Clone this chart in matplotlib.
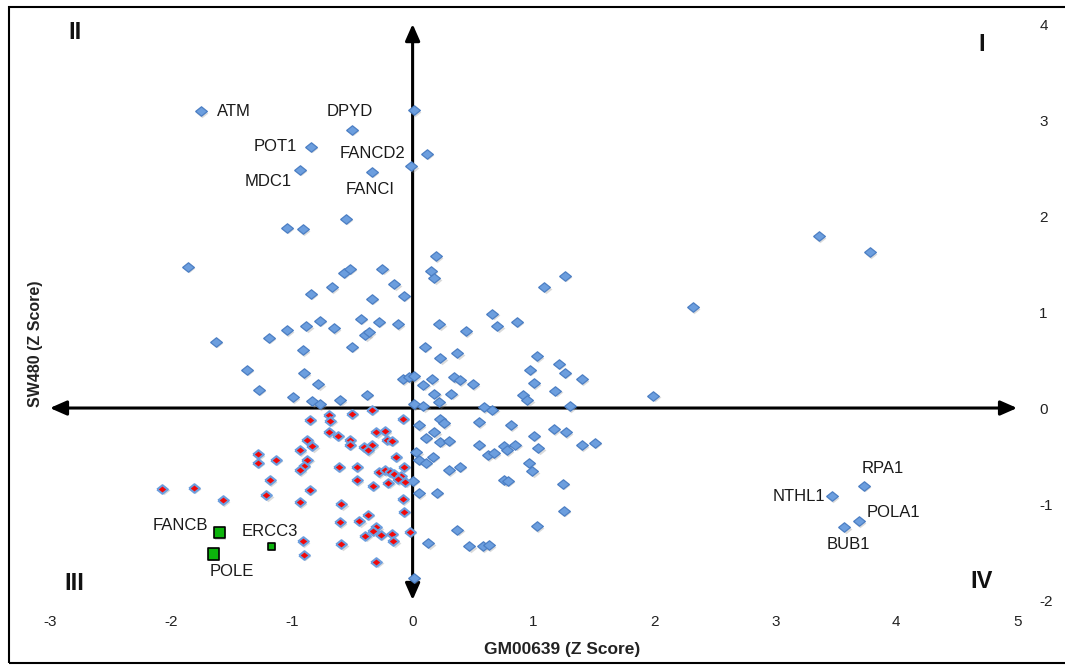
import matplotlib.pyplot as plt
from matplotlib.patches import Rectangle
from matplotlib.transforms import offset_copy

plt.rcParams['font.family'] = ['Liberation Sans', 'DejaVu Sans']

# labelled genes (blue diamonds)
named_genes = ['ATM', 'DPYD', 'POT1', 'MDC1', 'FANCI', 'FANCD2',
               'RPA1', 'NTHL1', 'POLA1', 'BUB1']
named_x = [-1.75, -0.50, -0.84, -0.93, -0.34, 0.12, 3.73, 3.47, 3.69, 3.57]
named_y = [3.09, 2.90, 2.72, 2.48, 2.46, 2.65, -0.81, -0.92, -1.18, -1.24]

# labelled genes (green squares)
green_genes = ['FANCB', 'POLE', 'ERCC3']
green_x = [-1.60, -1.65, -1.17]
green_y = [-1.30, -1.52, -1.44]

# other genes, blue diamonds
blue_x = [0.01, -0.01, -0.55, -1.04, -0.91, -1.86, 3.36, 3.78, 0.19, 0.15,
          0.18, -0.57, -0.52, -0.25, -0.15, -0.07, -0.67, -0.84, -0.34, 1.09,
          1.26, 2.32, -0.43, -0.28, -0.12, -0.77, -0.88, -1.04, -1.19, -0.65,
          -0.39, -0.36, -1.63, -0.91, -0.50, 0.66, 0.70, 0.86, 0.22, 0.44,
          0.10, 0.23, 0.37, 1.03, 0.97, 1.21, 1.26, 1.40, 1.00, 1.18,
          1.99, -1.37, -0.90, -0.78, -1.27, -0.99, -0.83, -0.77, -0.60, -0.38,
          -0.08, -0.03, 0.01, 0.01, 0.16, 0.09, 0.34, 0.39, 0.50, 0.18,
          0.32, 0.22, 0.91, 0.95, 0.09, 0.59, 0.66, 1.30,
          0.05, 0.23, 0.26, 0.55, 0.81, 0.18, 0.11, 0.23, 0.30, 0.55,
          0.76, 0.78, 0.85, 1.00, 1.04, 1.17, 1.27, 1.40, 1.51, 0.03,
          0.05, 0.11, 0.17, 0.62, 0.67, 0.30, 0.39, 0.96, 0.99, 0.00,
          0.76, 0.79, 1.24, 0.05, 0.20, 1.25, 0.37, 1.03, 0.13, 0.47,
          0.58, 0.63, 0.01]
blue_y = [3.10, 2.52, 1.97, 1.88, 1.86, 1.47, 1.79, 1.62, 1.58, 1.43,
          1.35, 1.41, 1.45, 1.45, 1.29, 1.17, 1.26, 1.19, 1.14, 1.26,
          1.38, 1.05, 0.93, 0.90, 0.87, 0.91, 0.85, 0.81, 0.73, 0.83,
          0.76, 0.79, 0.69, 0.60, 0.64, 0.98, 0.85, 0.90, 0.87, 0.80,
          0.64, 0.52, 0.57, 0.54, 0.40, 0.46, 0.37, 0.30, 0.26, 0.18,
          0.13, 0.40, 0.36, 0.25, 0.19, 0.11, 0.07, 0.04, 0.08, 0.14,
          0.30, 0.32, 0.33, 0.04, 0.30, 0.24, 0.32, 0.29, 0.25, 0.15,
          0.15, 0.06, 0.14, 0.08, 0.02, 0.01, -0.02, 0.02,
          -0.18, -0.11, -0.16, -0.15, -0.18, -0.25, -0.31, -0.35, -0.34, -0.38,
          -0.40, -0.44, -0.38, -0.29, -0.42, -0.22, -0.25, -0.39, -0.36, -0.46,
          -0.54, -0.57, -0.51, -0.49, -0.47, -0.65, -0.61, -0.57, -0.66, -0.76,
          -0.75, -0.76, -0.79, -0.89, -0.88, -1.07, -1.27, -1.23, -1.41, -1.44,
          -1.44, -1.43, -1.77]

# genes in quadrant III, red diamonds
red_x = [-0.85, -0.69, -0.68, -0.50, -0.34, -0.08, -0.69, -0.62, -0.87, -0.83,
         -0.93, -0.52, -0.52, -0.40, -0.34, -0.37, -0.30, -0.23, -0.21, -0.17,
         -1.28, -1.28, -1.13, -0.87, -0.90, -0.93, -0.61, -0.46, -0.14, -0.07,
         -0.28, -0.23, -0.19, -0.15, -0.10, -0.12, -0.06, -0.46, -0.20, -0.33,
         -1.18, -0.85, -2.07, -1.81, -1.57, -1.21, -0.93, -0.59, -0.08, -0.07,
         -0.37, -0.60, -0.44, -0.30, -0.33, -0.26, -0.39, -0.17, -0.16, -0.02,
         -0.91, -0.90, -0.59, -0.30]
red_y = [-0.12, -0.07, -0.13, -0.06, -0.02, -0.11, -0.25, -0.29, -0.33, -0.40,
         -0.44, -0.33, -0.38, -0.41, -0.39, -0.44, -0.25, -0.24, -0.33, -0.34,
         -0.48, -0.57, -0.54, -0.54, -0.60, -0.65, -0.61, -0.61, -0.51, -0.61,
         -0.67, -0.65, -0.67, -0.69, -0.71, -0.74, -0.77, -0.75, -0.78, -0.81,
         -0.75, -0.85, -0.84, -0.83, -0.96, -0.91, -0.98, -1.00, -0.95, -1.08,
         -1.11, -1.19, -1.18, -1.24, -1.28, -1.32, -1.33, -1.31, -1.39, -1.29,
         -1.39, -1.53, -1.42, -1.60]

x_ticks = [-3, -2, -1, 0, 1, 2, 3, 4, 5]
y_ticks = [-2, -1, 0, 1, 2, 3, 4]

# label offsets in points and alignment
label_pos = {
    'ATM': (11.5, 0, 'left'), 'DPYD': (-2, 13.3, 'center'),
    'POT1': (-10, 0, 'right'), 'MDC1': (-5.8, -8.6, 'right'),
    'FANCI': (-0.7, -12.5, 'center'), 'FANCD2': (-15.6, 0, 'right'),
    'RPA1': (13.5, 12.2, 'center'), 'NTHL1': (-5, 0, 'right'),
    'POLA1': (5.8, 6.2, 'left'), 'BUB1': (3, -12.2, 'center'),
    'FANCB': (-8, 5.5, 'right'), 'POLE': (13.8, -12.7, 'center'),
    'ERCC3': (-1, 10.6, 'center'),
}
green_sizes = [64, 64, 26]

diamond = [(-1, 0), (0, 0.8), (1, 0), (0, -0.8), (-1, 0)]

fig = plt.figure(figsize=(10.65, 6.65), dpi=100)
ax = fig.add_axes([0.04685, 0.0977, 0.9082, 0.8662])
ax.set_xlim(-3, 5)
ax.set_ylim(-2, 4)
for s in ax.spines.values():
    s.set_visible(False)

# the two axis arrows through the origin
arrow = dict(arrowstyle='<|-|>,head_length=0.5,head_width=0.22', lw=2.2,
             color='black', shrinkA=0, shrinkB=0, mutation_scale=20)
ax.annotate('', xy=(5, 0), xytext=(-3, 0), arrowprops=arrow, zorder=1)
ax.annotate('', xy=(0, 4), xytext=(0, -2), arrowprops=arrow, zorder=1)

shadow = offset_copy(ax.transData, fig=fig, x=1.3, y=-1.5, units='dots')

all_bx = blue_x + named_x
all_by = blue_y + named_y
ax.scatter(all_bx, all_by, s=72, marker=diamond, c='#888888', alpha=0.3,
           linewidths=0, transform=shadow, zorder=2)
ax.scatter(all_bx, all_by, s=72, marker=diamond, c='#6c9ede',
           edgecolors='#4c7fc4', linewidths=0.9, zorder=3)
ax.scatter(red_x, red_y, s=72, marker=diamond, c='#888888', alpha=0.3,
           linewidths=0, transform=shadow, zorder=2)
ax.scatter(red_x, red_y, s=60, marker=diamond, c='#f20808',
           edgecolors='#6c9ede', linewidths=1.5, zorder=3)
ax.scatter(green_x, green_y, s=green_sizes, marker='s', c='#888888', alpha=0.3,
           linewidths=0, transform=shadow, zorder=2)
ax.scatter(green_x, green_y, s=green_sizes, marker='s', c='#0cb30c',
           edgecolors='black', linewidths=1.2, zorder=4)

for g, x, y in zip(named_genes + green_genes, named_x + green_x, named_y + green_y):
    dx, dy, ha = label_pos[g]
    ax.annotate(g, (x, y), xytext=(dx, dy), textcoords='offset points',
                ha=ha, va='center', fontsize=12, color='#1a1a1a', zorder=5)

ax.set_xticks(x_ticks)
ax.set_xticklabels([str(t) for t in x_ticks])
ax.set_yticks(y_ticks)
ax.set_yticklabels([str(t) for t in y_ticks])
ax.yaxis.tick_right()
ax.tick_params(axis='x', length=0, pad=11, labelsize=11, labelcolor='#222222')
ax.tick_params(axis='y', length=0, pad=16, labelsize=11, labelcolor='#222222')

fig.text(0.5277, 0.0226, 'GM00639 (Z Score)', ha='center', va='center',
         fontsize=12.5, fontweight='bold', color='#222222')
fig.text(0.0329, 0.4827, 'SW480 (Z Score)', ha='center', va='center',
         rotation=90, fontsize=11.5, fontweight='bold', color='#222222')

for txt, fx, fy in [('II', 0.0704, 0.9504), ('I', 0.9221, 0.9338),
                    ('III', 0.0695, 0.1233), ('IV', 0.9221, 0.1263)]:
    fig.text(fx, fy, txt, ha='center', va='center', fontsize=17,
             fontweight='bold', color='#111111')

# outer frame (right edge runs off the picture)
fig.patches.append(Rectangle((0.00845, 0.003), 1.05, 0.9865, fill=False,
                             lw=1.5, ec='black', transform=fig.transFigure))

fig.savefig('out.png', dpi=100)
